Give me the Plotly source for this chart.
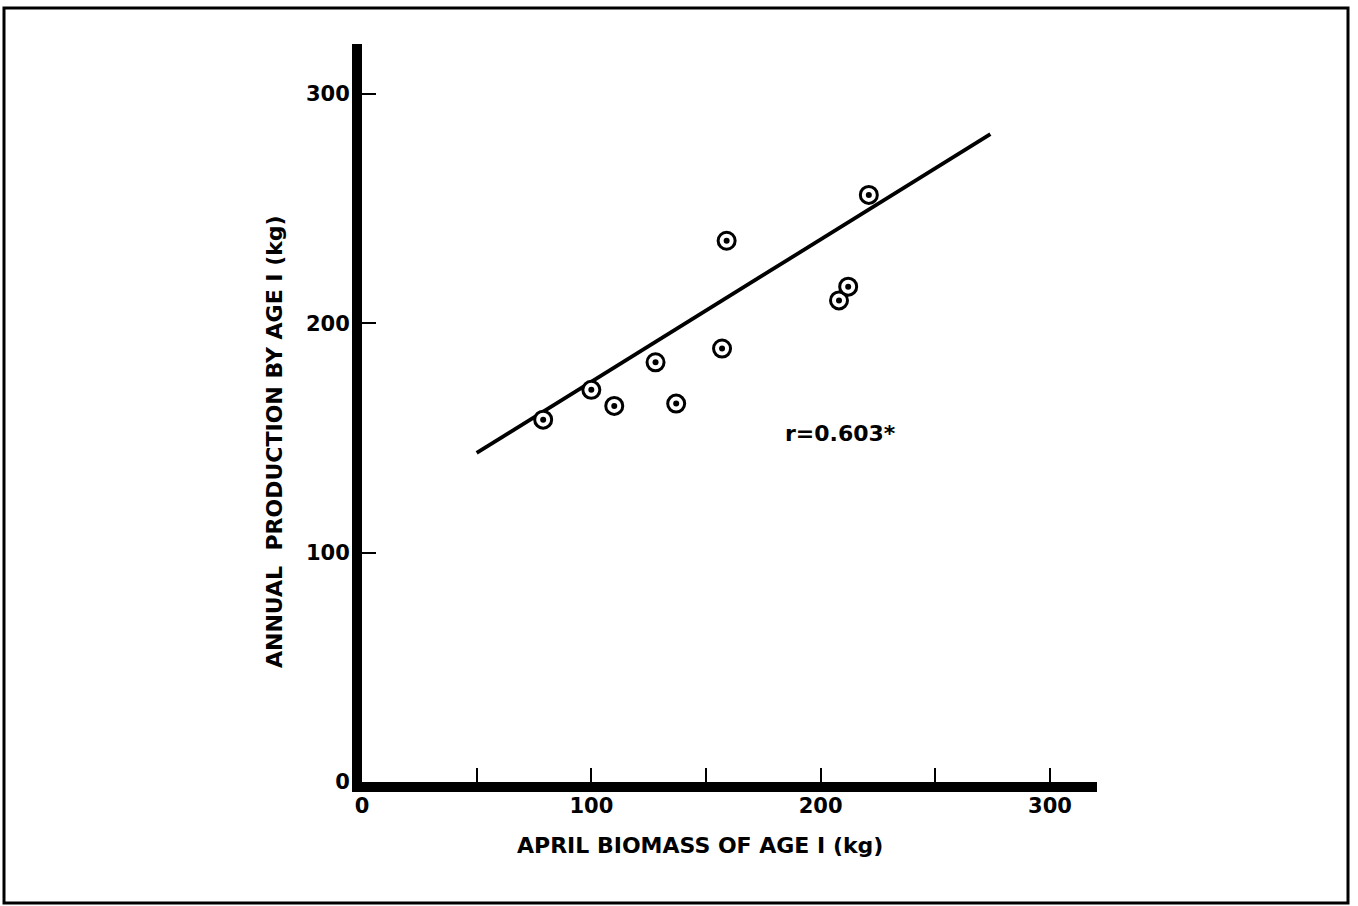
import plotly.graph_objects as go

# Data
biomass = [79, 100, 110, 128, 137, 157, 159, 208, 212, 221]
production = [158, 171, 164, 183, 165, 189, 236, 210, 216, 256]

# regression line end points
line_x = [50, 274]
line_y = [143.5, 282.5]

x_tickvals = [0, 50, 100, 150, 200, 250, 300]
x_ticktext = ["0", "", "100", "", "200", "", "300"]
y_tickvals = [0, 100, 200, 300]
y_ticktext = ["0", "100", "200", "300"]

r_label = "r=0.603*"
x_title = "APRIL BIOMASS OF AGE I (kg)"
y_title = "ANNUAL  PRODUCTION BY AGE I (kg)"

FONT = "DejaVu Sans"
TF = dict(size=21, family=FONT, weight="bold", color="black")
LF = dict(size=22, family=FONT, weight="bold", color="black")

fig = go.Figure()
fig.add_trace(go.Scatter(x=line_x, y=line_y, mode="lines",
                         line=dict(color="black", width=3.8), showlegend=False))
fig.add_trace(go.Scatter(x=biomass, y=production, mode="markers",
                         marker=dict(symbol="circle", size=17, color="white",
                                     line=dict(color="black", width=3)),
                         showlegend=False))
fig.add_trace(go.Scatter(x=biomass, y=production, mode="markers",
                         marker=dict(symbol="circle", size=6, color="black",
                                     line=dict(width=0)),
                         showlegend=False))

fig.update_layout(
    width=1358, height=906,
    margin=dict(l=362, r=261, t=44, b=124),
    paper_bgcolor="white", plot_bgcolor="white",
    font=dict(family=FONT, color="black", size=21),
    xaxis=dict(range=[0, 320.5], showgrid=False, zeroline=False,
               showline=True, linecolor="black", linewidth=10,
               tickmode="array", tickvals=x_tickvals, ticktext=x_ticktext,
               ticks="inside", ticklen=14, tickwidth=2, tickcolor="black",
               tickfont=TF, ticklabelstandoff=-4),
    yaxis=dict(range=[0, 321.8], showgrid=False, zeroline=False,
               showline=True, linecolor="black", linewidth=10,
               tickmode="array", tickvals=y_tickvals, ticktext=y_ticktext,
               ticks="inside", ticklen=14, tickwidth=2, tickcolor="black",
               tickfont=TF, ticklabelstandoff=-2),
    annotations=[
        dict(text=r_label, x=208.5, y=152, xref="x", yref="y", showarrow=False,
             xanchor="center", yanchor="middle", font=LF),
        dict(text=x_title, x=(700 - 362) / 735, y=(782 - 845) / 738,
             xref="paper", yref="paper", showarrow=False,
             xanchor="center", yanchor="middle", font=LF),
        dict(text=y_title, x=(275 - 362) / 735, y=(782 - 442) / 738,
             xref="paper", yref="paper", showarrow=False, textangle=-90,
             xanchor="center", yanchor="middle", font=LF),
    ],
    shapes=[
        dict(type="rect", xref="paper", yref="paper",
             x0=(4 - 362) / 735, x1=(1348 - 362) / 735,
             y0=(782 - 903) / 738, y1=(782 - 8) / 738,
             line=dict(color="black", width=3), layer="below"),
    ],
)

fig.write_html("out.html")
